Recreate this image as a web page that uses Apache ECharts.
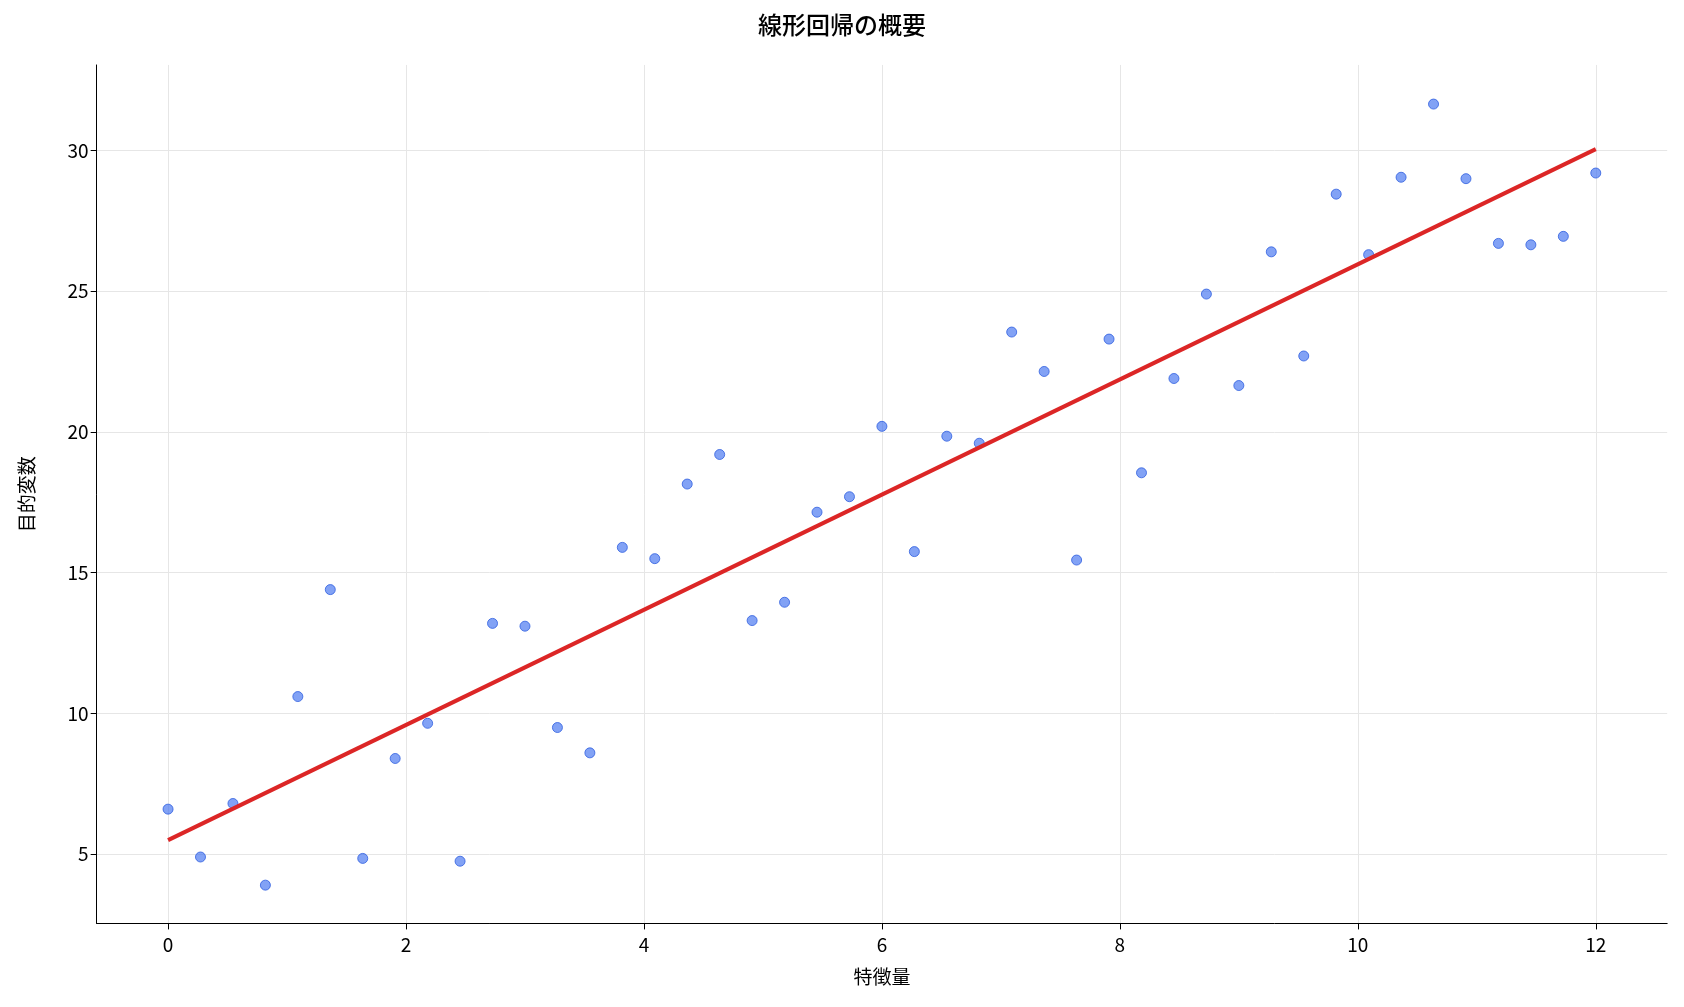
<!DOCTYPE html>
<html><head><meta charset="utf-8">
<script src="https://cdn.jsdelivr.net/npm/echarts@6/dist/echarts.min.js"></script>
<style>html,body{margin:0;background:#fff}#c{width:1684px;height:1007px}</style>
</head><body><div id="c"></div>
<script>
const xValues=[0,0.2727,0.5455,0.8182,1.0909,1.3636,1.6364,1.9091,2.1818,2.4545,2.7273,3.0,3.2727,3.5455,3.8182,4.0909,4.3636,4.6364,4.9091,5.1818,5.4545,5.7273,6.0,6.2727,6.5455,6.8182,7.0909,7.3636,7.6364,7.9091,8.1818,8.4545,8.7273,9.0,9.2727,9.5455,9.8182,10.0909,10.3636,10.6364,10.9091,11.1818,11.4545,11.7273,12.0];
const yValues=[6.6,4.9,6.8,3.9,10.6,14.4,4.85,8.4,9.65,4.75,13.2,13.1,9.5,8.6,15.9,15.5,18.15,19.2,13.3,13.95,17.15,17.7,20.2,15.75,19.85,19.6,23.55,22.15,15.45,23.3,18.55,21.9,24.9,21.65,26.4,22.7,28.45,26.3,29.05,31.65,29.0,26.7,26.65,26.95,29.2];
const lineX=[0,12];
const lineY=[5.5,30.05];
const xTicks=[0,2,4,6,8,10,12];
const yTicks=[5,10,15,20,25,30];
const font='"Noto Sans CJK JP", sans-serif';
const chart=echarts.init(document.getElementById('c'));
chart.setOption({
  animation:false,
  title:{text:'線形回帰の概要',left:'center',top:8,textStyle:{fontFamily:font,fontSize:24,fontWeight:500,color:'#000'}},
  grid:{left:'5.74%',right:'1.0%',top:'6.45%',bottom:'8.3%'},
  xAxis:{type:'value',min:-0.6,max:12.6,name:'特徴量',nameLocation:'middle',nameGap:44,
    nameTextStyle:{fontFamily:font,fontSize:19,color:'#000'},
    axisLine:{onZero:false,lineStyle:{color:'#000'}},
    axisTick:{show:true,length:6,lineStyle:{color:'#000'},customValues:xTicks},
    axisLabel:{fontFamily:font,fontSize:19,color:'#000',margin:12,customValues:xTicks},
    splitLine:{show:true,lineStyle:{color:'#e6e6e6'}}},
  yAxis:{type:'value',min:2.54,max:33.04,name:'目的変数',nameLocation:'middle',nameGap:60,
    nameTextStyle:{fontFamily:font,fontSize:19,color:'#000'},
    axisLine:{show:true,onZero:false,lineStyle:{color:'#000'}},
    axisLabel:{fontFamily:font,fontSize:19,color:'#000',customValues:yTicks},
    axisTick:{show:true,length:6,lineStyle:{color:'#000'},customValues:yTicks},
    splitLine:{show:true,lineStyle:{color:'#e6e6e6'}}},
  series:[
    {type:'scatter',data:xValues.map((x,i)=>[x,yValues[i]]),symbolSize:10,
     itemStyle:{color:'rgba(60,110,240,0.8)',borderColor:'#2f5fe0',borderWidth:1}},
    {type:'line',data:lineX.map((x,i)=>[x,lineY[i]]),symbol:'none',lineStyle:{color:'#dc2626',width:4}}
  ]
});
</script></body></html>
